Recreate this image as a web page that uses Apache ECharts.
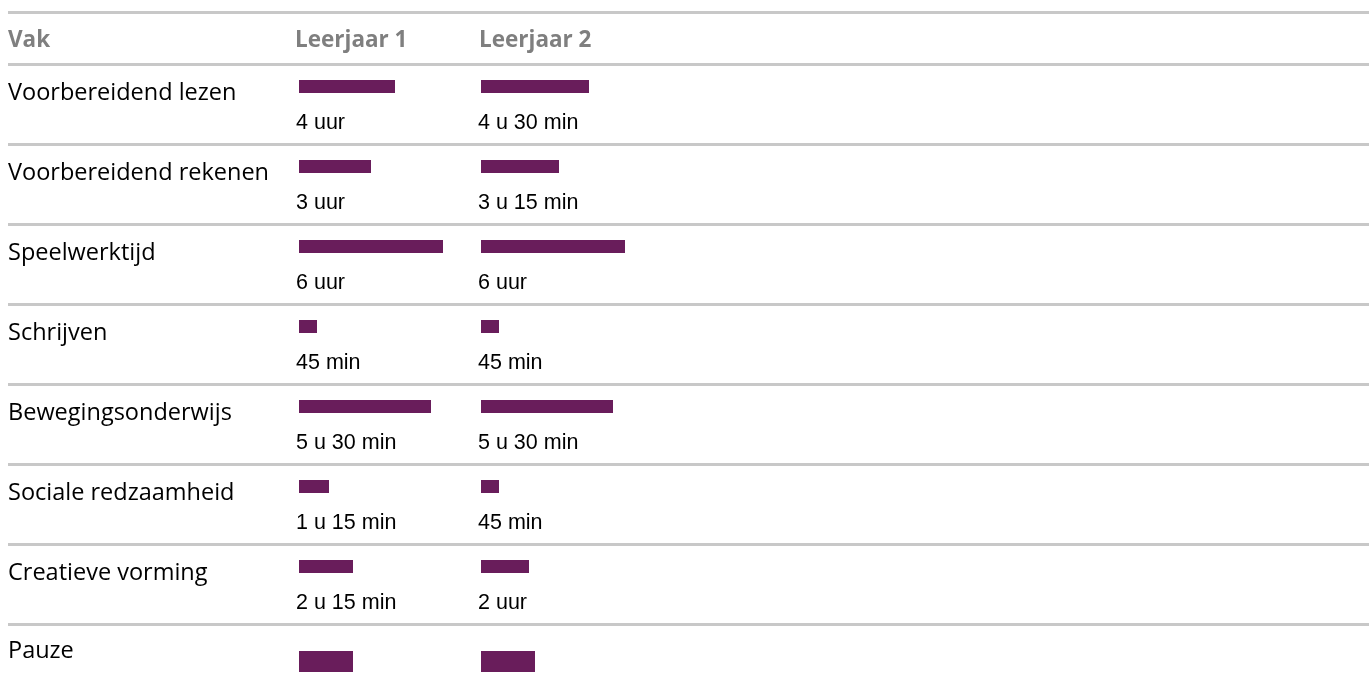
<!DOCTYPE html>
<html><head><meta charset="utf-8">
<script src="https://cdn.jsdelivr.net/npm/echarts@6/dist/echarts.min.js"></script>
<style>html,body{margin:0;padding:0;background:#fff}#c{width:1372px;height:693px}</style>
</head><body><div id="c"></div>
<script>
const headers = ['Vak', 'Leerjaar 1', 'Leerjaar 2'];
const categories = ['Voorbereidend lezen', 'Voorbereidend rekenen', 'Speelwerktijd', 'Schrijven', 'Bewegingsonderwijs', 'Sociale redzaamheid', 'Creatieve vorming', 'Pauze'];
const year1Hours = [4, 3, 6, 0.75, 5.5, 1.25, 2.25, 2.25];
const year2Hours = [4.5, 3.25, 6, 0.75, 5.5, 0.75, 2, 2.25];
const year1Labels = ['4 uur', '3 uur', '6 uur', '45 min', '5 u 30 min', '1 u 15 min', '2 u 15 min', ''];
const year2Labels = ['4 u 30 min', '3 u 15 min', '6 uur', '45 min', '5 u 30 min', '45 min', '2 uur', ''];

const barColor = '#691d5b';
const lineColor = '#c8c8c8';
const nameFont = '"Open Sans", sans-serif';

function renderer(labels) {
  return function (params, api) {
    const v = api.value(0);
    const idx = api.value(1);
    const p0 = api.coord([0, idx]);
    const p1 = api.coord([v, idx]);
    const band = api.size([0, 1])[1];
    const top = p0[1] - band / 2;
    const label = labels[params.dataIndex];
    const tall = !label;
    const y = top + (tall ? 27 : 16);
    const h = tall ? 21 : 13;
    return {
      type: 'group',
      children: [
        { type: 'rect', shape: { x: p0[0], y: y, width: p1[0] - p0[0], height: h }, style: { fill: barColor } },
        { type: 'text', style: { text: label, x: p0[0] - 3, y: top + 59, verticalAlign: 'middle', align: 'left', font: '21.5px "Liberation Sans", Arial, sans-serif', fill: '#000' } }
      ]
    };
  };
}

function nameRenderer(params, api) {
  const idx = api.value(1);
  const p0 = api.coord([0, idx]);
  const band = api.size([0, 1])[1];
  const top = p0[1] - band / 2;
  const isLast = params.dataIndex === categories.length - 1;
  return {
    type: 'text',
    style: { text: categories[params.dataIndex], x: p0[0], y: top + (isLast ? 27 : 29), verticalAlign: 'middle', align: 'left', font: '23.5px ' + nameFont, fill: '#000' }
  };
}

const chart = echarts.init(document.getElementById('c'));
const gridTop = 64, gridH = 640;
const gridBase = { top: gridTop, height: gridH, outerBoundsMode: 'none', containLabel: false };
chart.setOption({
  animation: false,
  grid: [
    Object.assign({ left: 8, right: 3 }, gridBase),
    Object.assign({ left: 299, width: 240 }, gridBase),
    Object.assign({ left: 481, width: 240 }, gridBase)
  ],
  xAxis: [0, 1, 2].map(i => ({ type: 'value', gridIndex: i, min: 0, max: 10, show: false })),
  yAxis: [
    {
      type: 'category', gridIndex: 0, inverse: true, data: categories,
      axisLine: { show: false }, axisTick: { show: false }, axisLabel: { show: false },
      splitLine: { show: true, lineStyle: { color: lineColor, width: 3 } }
    },
    { type: 'category', gridIndex: 1, inverse: true, data: categories, show: false },
    { type: 'category', gridIndex: 2, inverse: true, data: categories, show: false }
  ],
  graphic: [
    { type: 'rect', shape: { x: 8, y: 11, width: 1361, height: 3 }, style: { fill: lineColor } },
    { type: 'text', style: { text: headers[0], x: 8, y: 41, verticalAlign: 'middle', font: 'bold 22.5px ' + nameFont, fill: '#7f7f7f' } },
    { type: 'text', style: { text: headers[1], x: 295, y: 41, verticalAlign: 'middle', font: 'bold 22.5px ' + nameFont, fill: '#7f7f7f' } },
    { type: 'text', style: { text: headers[2], x: 479, y: 41, verticalAlign: 'middle', font: 'bold 22.5px ' + nameFont, fill: '#7f7f7f' } }
  ],
  series: [
    { type: 'custom', xAxisIndex: 0, yAxisIndex: 0, renderItem: nameRenderer, encode: { x: 0, y: 1 }, data: categories.map(c => [0, c]) },
    { type: 'custom', xAxisIndex: 1, yAxisIndex: 1, renderItem: renderer(year1Labels), encode: { x: 0, y: 1 }, data: year1Hours.map((v, i) => [v, categories[i]]) },
    { type: 'custom', xAxisIndex: 2, yAxisIndex: 2, renderItem: renderer(year2Labels), encode: { x: 0, y: 1 }, data: year2Hours.map((v, i) => [v, categories[i]]) }
  ]
});
</script></body></html>
